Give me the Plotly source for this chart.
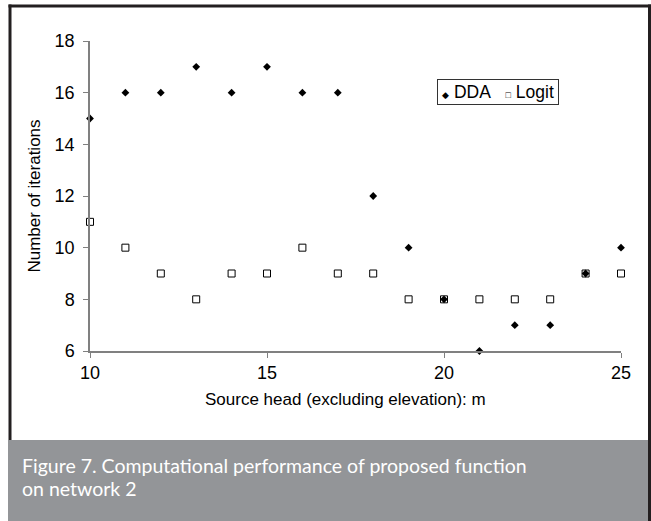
import plotly.graph_objects as go

x_head = [10, 11, 12, 13, 14, 15, 16, 17, 18, 19, 20, 21, 22, 23, 24, 25]
dda = [15, 16, 16, 17, 16, 17, 16, 16, 12, 10, 8, 6, 7, 7, 9, 10]
logit = [11, 10, 9, 8, 9, 9, 10, 9, 9, 8, 8, 8, 8, 8, 9, 9]
series_names = ["DDA", "Logit"]
x_title = "Source head (excluding elevation): m"
y_title = "Number of iterations"
caption = ["Figure 7. Computational performance of proposed function", "on network 2"]

W, H = 651, 521
L, R, T, B = 90, 621, 41, 351

def px(p):
    return (p - L) / (R - L)

def py(p):
    return (B - p) / (B - T)

fig = go.Figure()
fig.add_trace(go.Scatter(x=x_head, y=logit, mode="markers", name=series_names[1], showlegend=False,
                         marker=dict(symbol="square-open", size=7, color="black",
                                     line=dict(width=1, color="black"))))
fig.add_trace(go.Scatter(x=x_head, y=dda, mode="markers", name=series_names[0], showlegend=False,
                         marker=dict(symbol="diamond", size=6, color="black")))

frame = "#231f20"
shapes = [
    dict(type="rect", xref="paper", yref="paper", x0=px(8), x1=px(648), y0=py(440), y1=py(521),
         fillcolor="#939598", line=dict(width=0), layer="below"),
    dict(type="line", xref="paper", yref="paper", x0=px(8.5), x1=px(651), y0=py(6), y1=py(6),
         line=dict(color=frame, width=3)),
    dict(type="line", xref="paper", yref="paper", x0=px(10), x1=px(10), y0=py(4.5), y1=py(440),
         line=dict(color=frame, width=3)),
    dict(type="line", xref="paper", yref="paper", x0=px(649.5), x1=px(649.5), y0=py(4.5), y1=py(521),
         line=dict(color=frame, width=3)),
]

legend_text = ('<span style="font-size:9px">◆</span> ' + series_names[0] +
               '&nbsp;&nbsp; <span style="font-size:9px">□</span> ' + series_names[1])

annotations = [
    dict(text=legend_text, xref="paper", yref="paper", x=px(437), y=py(79),
         xanchor="left", yanchor="top", showarrow=False, bordercolor="#333", borderwidth=1,
         borderpad=2, bgcolor="white", width=116, align="center",
         font=dict(family="Liberation Sans, Arial", size=17.5, color="black")),
    dict(text=x_title, xref="paper", yref="paper", x=px(345.5), y=py(400),
         xanchor="center", yanchor="middle", showarrow=False,
         font=dict(family="Liberation Sans, Arial", size=17, color="black")),
    dict(text=caption[0], xref="paper", yref="paper", x=px(20), y=py(465),
         xanchor="left", yanchor="middle", showarrow=False, align="left",
         font=dict(family="Lato", size=19.5, color="white")),
    dict(text=caption[1], xref="paper", yref="paper", x=px(20), y=py(488),
         xanchor="left", yanchor="middle", showarrow=False, align="left",
         font=dict(family="Lato", size=19.5, color="white")),
]

fig.update_layout(
    width=W, height=H,
    margin=dict(l=L, r=W - R, t=T, b=H - B),
    paper_bgcolor="white", plot_bgcolor="white",
    font=dict(family="Liberation Sans, Arial", color="black"),
    showlegend=False,
    shapes=shapes,
    annotations=annotations,
)
fig.update_xaxes(range=[10, 25], tickvals=[10, 15, 20, 25], showgrid=False, zeroline=False,
                 showline=True, linecolor="#808080", linewidth=1.5, ticks="outside", ticklen=5,
                 tickcolor="#808080", tickfont=dict(size=18))
fig.update_yaxes(range=[6, 18], tickvals=[6, 8, 10, 12, 14, 16, 18], showgrid=False, zeroline=False,
                 showline=True, linecolor="#808080", linewidth=1.5, ticks="outside", ticklen=5,
                 tickcolor="#808080", tickfont=dict(size=18), ticklabelstandoff=5,
                 title=dict(text=y_title, font=dict(size=17), standoff=10))
for tr in fig.data:
    tr.cliponaxis = False

fig.write_html("out.html", config={"displayModeBar": False},
               post_script="document.body.style.margin='0';")
